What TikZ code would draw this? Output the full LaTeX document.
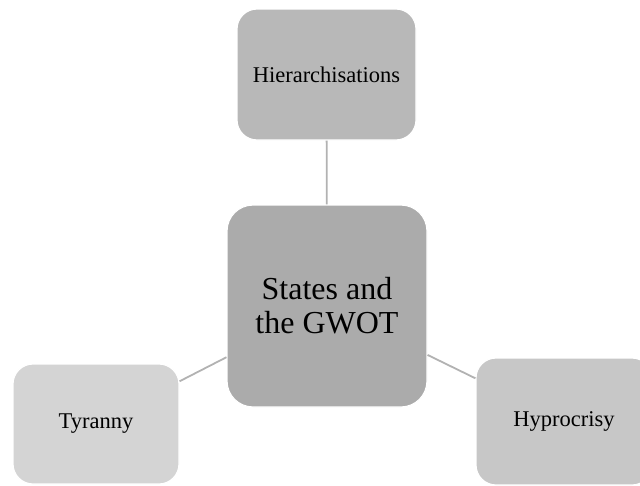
\documentclass[tikz,border=0pt]{standalone}
\usepackage{fontspec}
\setmainfont{Liberation Serif}
\begin{document}
\begin{tikzpicture}[x=1pt,y=-1pt,
  box/.style={rectangle, draw=white, line width=1.2pt, rounded corners=20pt,
    align=center, inner sep=0pt, font=\fontsize{22.5}{26}\selectfont},
  link/.style={draw=black!30, line width=1.8pt}]
\useasboundingbox (0,0) rectangle (640,485);
\begin{scope}
\clip (0,0) rectangle (640,485);
% hub and spokes
\node[box, fill=black!33, minimum width=200pt, minimum height=202pt,
  rounded corners=26pt, font=\fontsize{32}{34}\selectfont]
  (hub) at (327,306) {States and\\the GWOT};
\node[box, fill=black!28, minimum width=179pt, minimum height=131pt]
  (hier) at (326.5,74.5) {Hierarchisations};
\node[box, fill=black!17, minimum width=166pt, minimum height=120pt]
  (tyr) at (96,424) {Tyranny};
\node[box, fill=black!22, minimum width=176pt, minimum height=127pt]
  (hyp) at (564,421.5) {Hyprocrisy};
% connectors
\draw[link] (hier) -- (hub);
\draw[link] (tyr) -- (hub);
\draw[link] (hyp) -- (hub);
\end{scope}
\end{tikzpicture}
\end{document}
